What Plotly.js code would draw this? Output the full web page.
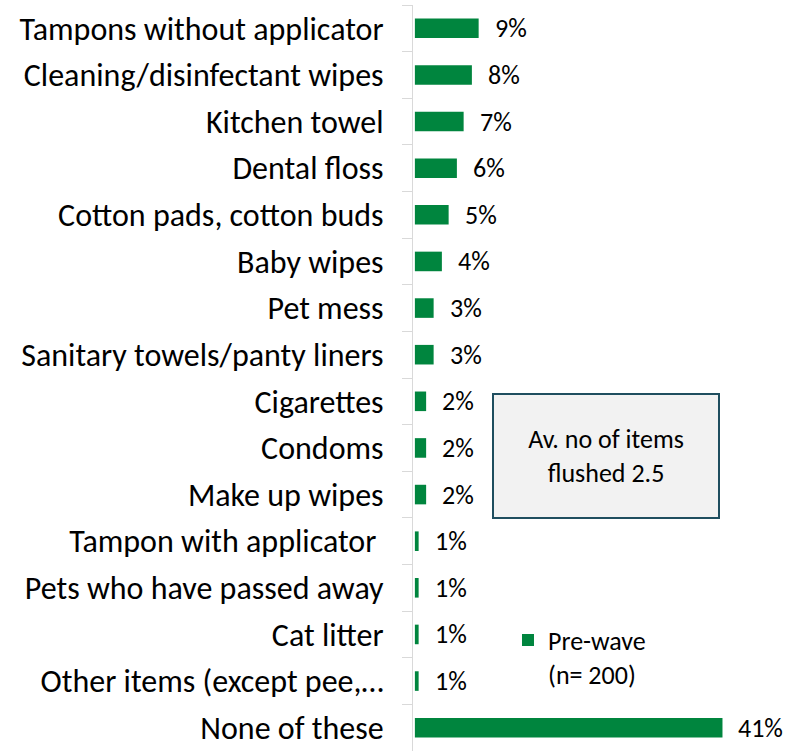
<!DOCTYPE html>
<html>
<head>
<meta charset="utf-8">
<script src="https://cdn.plot.ly/plotly-3.0.1.min.js"></script>
<style>html,body{margin:0;padding:0;background:#fff;}#chart{width:787px;height:751px;}</style>
</head>
<body>
<div id="chart"></div>
<script>
const categories = [
  "Tampons without applicator",
  "Cleaning/disinfectant wipes",
  "Kitchen towel",
  "Dental floss",
  "Cotton pads, cotton buds",
  "Baby wipes",
  "Pet mess",
  "Sanitary towels/panty liners",
  "Cigarettes",
  "Condoms",
  "Make up wipes",
  "Tampon with applicator\u00a0",
  "Pets who have passed away",
  "Cat litter",
  "Other items (except pee,\u2026",
  "None of these"
];
const values = [8.5, 7.6, 6.5, 5.6, 4.5, 3.6, 2.5, 2.5, 1.5, 1.5, 1.5, 0.5, 0.5, 0.5, 0.5, 41];
const valueLabels = ["9%", "8%", "7%", "6%", "5%", "4%", "3%", "3%", "2%", "2%", "2%", "1%", "1%", "1%", "1%", "41%"];
const seriesName = "Pre-wave<br>(n= 200)";
const noteText = "Av. no of items<br>flushed 2.5";

const FONT = "Carlito, Lato, 'Liberation Sans', sans-serif";
const GREEN = "#00853E";

const trace = {
  type: "bar",
  orientation: "h",
  x: values,
  y: categories,
  name: seriesName,
  marker: {color: GREEN, line: {width: 0}},
  hoverinfo: "none",
  showlegend: true
};

const labelAnns = values.map((v, i) => ({
  x: v, y: categories[i], xref: "x", yref: "y",
  text: valueLabels[i], showarrow: false,
  xanchor: "left", yanchor: "middle", xshift: 14,
  font: {family: FONT, size: 26, color: "#000"}
}));

const noteAnn = {
  xref: "paper", yref: "paper", x: 0.516, y: 0.3954,
  xanchor: "center", yanchor: "middle",
  text: noteText, showarrow: false,
  width: 224, height: 122,
  bgcolor: "#f2f2f2", bordercolor: "#1f4e5f", borderwidth: 2, borderpad: 0,
  align: "center",
  font: {family: FONT, size: 26, color: "#000"}
};

const layout = {
  width: 787, height: 751,
  margin: {l: 413, r: 0, t: 5, b: 0, pad: 0},
  paper_bgcolor: "#fff", plot_bgcolor: "#fff",
  bargap: 0.58,
  showlegend: true,
  legend: {
    x: 0.254, y: 0.18, xanchor: "left", yanchor: "top",
    bgcolor: "rgba(0,0,0,0)", borderwidth: 0,
    font: {family: FONT, size: 26, color: "#000"},
    valign: "top", itemclick: false, itemdoubleclick: false
  },
  xaxis: {
    range: [-0.25, 49.6], visible: false, showgrid: false, zeroline: false, fixedrange: true
  },
  yaxis: {
    type: "category", autorange: "reversed",
    showline: true, linecolor: "#d9d9d9", linewidth: 1,
    ticks: "outside", tickson: "boundaries", ticklen: 10, tickcolor: "#d9d9d9", tickwidth: 1,
    ticklabelstandoff: 22,
    showgrid: false, zeroline: false, fixedrange: true,
    tickfont: {family: FONT, size: 32, color: "#000"}
  },
  annotations: labelAnns.concat([noteAnn]),
  font: {family: FONT, color: "#000"}
};

Plotly.newPlot("chart", [trace], layout, {displayModeBar: false, staticPlot: true});
</script>
</body>
</html>
